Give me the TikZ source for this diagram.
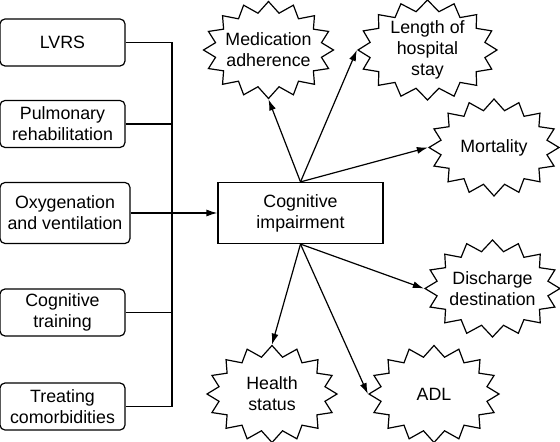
\documentclass[tikz,border=0pt]{standalone}
\usepackage{fontspec}
\setmainfont{Liberation Sans}
\usepackage{tikz}
\usetikzlibrary{calc,positioning,shapes.symbols,arrows.meta}

\begin{document}
\begin{tikzpicture}[x=0.5pt,y=-0.5pt,line width=0.6pt,
		font=\fontsize{8.9}{10.5}\selectfont,
		cause/.style={draw,rounded corners=2.5pt,align=center,
			minimum width=62.5pt,minimum height=23.5pt,inner sep=1pt},
		effect/.style={draw,starburst,random starburst=0,starburst points=16,
			starburst point height=5.5pt,align=center,inner xsep=-5pt,inner ysep=-3pt,
			minimum width=65pt,minimum height=48.5pt},
		link/.style={-{Latex[length=5.5pt,width=3.5pt]}}]
		\useasboundingbox (0,0) rectangle (560,442);
		% causes on the left
		\node[cause] (lvrs) at (62.5,42.5) {LVRS};
		\node[cause] (pulm) at (62.5,124) {Pulmonary\\rehabilitation};
		\node[cause,minimum width=65pt,minimum height=30.5pt] (oxy) at (65,213)
			{Oxygenation\\and ventilation};
		\node[cause] (train) at (62.5,312.5) {Cognitive\\training};
		\node[cause] (treat) at (62.5,406.5) {Treating\\comorbidities};
		\node[draw,align=center,minimum width=82.5pt,minimum height=30.5pt] (ci)
			at (300.5,213) {Cognitive\\impairment};
		% outcomes
		\node[effect] (med) at (268.5,50) {Medication\\adherence};
		\node[effect,minimum width=69.5pt,minimum height=50pt] (len) at (427.5,50)
			{Length of\\hospital\\stay};
		\node[effect] (mort) at (494,147.5) {Mortality};
		\node[effect,minimum width=67.5pt] (dis) at (492.5,288.5) {Discharge\\destination};
		\node[effect] (health) at (272,394) {Health\\status};
		\node[effect] (adl) at (434,394) {ADL};
		% bus
		\coordinate (bus) at (172,0);
		\draw (lvrs.east -| bus) -- (treat.east -| bus);
		\foreach \n in {lvrs,pulm,train,treat}
			\draw (\n.east) -- (\n.east -| bus);
		\draw[link] (oxy) -- (ci);
		\foreach \n/\a in {med/south,len/west,mort/west}
			\draw[link] (ci.north) -- (\n.\a);
		\foreach \n/\a in {dis/west,health/north,adl/west}
			\draw[link] (ci.south) -- (\n.\a);
\end{tikzpicture}
\end{document}
